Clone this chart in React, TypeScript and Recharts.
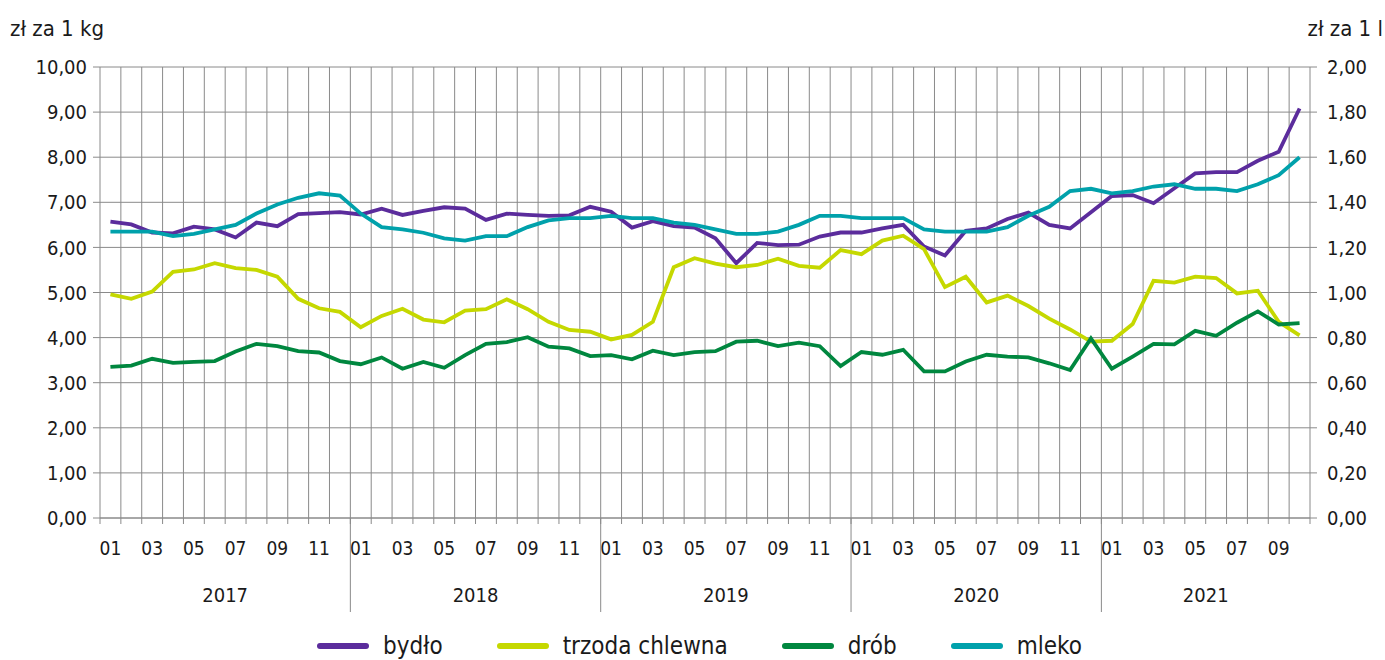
import React from 'react';
import { LineChart, Line, XAxis, YAxis, CartesianGrid, Legend } from 'recharts';

const years = [2017, 2018, 2019, 2020, 2021];
const monthsInYear = [12, 12, 12, 12, 10];
const monthLabels = ['01', '02', '03', '04', '05', '06', '07', '08', '09', '10', '11', '12'];

// zł za 1 kg
const bydlo = [
  6.57, 6.51, 6.33, 6.31, 6.46, 6.4, 6.22, 6.55, 6.47, 6.74, 6.76, 6.78,
  6.73, 6.86, 6.72, 6.81, 6.89, 6.86, 6.61, 6.75, 6.72, 6.7, 6.71, 6.9,
  6.79, 6.44, 6.58, 6.47, 6.44, 6.2, 5.65, 6.1, 6.05, 6.06, 6.24, 6.33,
  6.33, 6.42, 6.5, 6.02, 5.82, 6.37, 6.42, 6.63, 6.77, 6.5, 6.42, 6.78,
  7.14, 7.16, 6.98, 7.31, 7.64, 7.67, 7.67, 7.92, 8.12, 9.08,
];
const trzoda = [
  4.96, 4.86, 5.02, 5.46, 5.51, 5.65, 5.54, 5.5, 5.35, 4.86, 4.65, 4.57,
  4.23, 4.48, 4.64, 4.4, 4.34, 4.6, 4.63, 4.85, 4.63, 4.35, 4.17, 4.13,
  3.96, 4.06, 4.35, 5.56, 5.76, 5.64, 5.56, 5.61, 5.75, 5.59, 5.55, 5.94,
  5.85, 6.15, 6.26, 5.96, 5.12, 5.35, 4.78, 4.93, 4.7, 4.42, 4.18, 3.91,
  3.93, 4.3, 5.26, 5.22, 5.35, 5.32, 4.98, 5.04, 4.35, 4.05,
];
const drob = [
  3.35, 3.38, 3.53, 3.44, 3.46, 3.48, 3.69, 3.86, 3.81, 3.7, 3.67, 3.48,
  3.41, 3.56, 3.31, 3.46, 3.33, 3.61, 3.86, 3.9, 4.01, 3.8, 3.76, 3.59,
  3.61, 3.52, 3.71, 3.61, 3.68, 3.7, 3.91, 3.93, 3.81, 3.89, 3.81, 3.37,
  3.68, 3.62, 3.73, 3.25, 3.25, 3.47, 3.62, 3.58, 3.56, 3.43, 3.28, 3.98,
  3.31, 3.58, 3.86, 3.85, 4.15, 4.04, 4.33, 4.58, 4.29, 4.32,
];
// zł za 1 l
const mleko = [
  1.27, 1.27, 1.27, 1.25, 1.26, 1.28, 1.3, 1.35, 1.39, 1.42, 1.44, 1.43,
  1.35, 1.29, 1.28, 1.265, 1.24, 1.23, 1.25, 1.25, 1.29, 1.32, 1.33, 1.33,
  1.34, 1.33, 1.33, 1.31, 1.3, 1.28, 1.26, 1.26, 1.27, 1.3, 1.34, 1.34,
  1.33, 1.33, 1.33, 1.28, 1.27, 1.27, 1.27, 1.29, 1.34, 1.38, 1.45, 1.46,
  1.44, 1.45, 1.47, 1.48, 1.46, 1.46, 1.45, 1.48, 1.52, 1.6,
];

const leftTicks = [0, 1, 2, 3, 4, 5, 6, 7, 8, 9, 10];
const rightTicks = [0, 0.2, 0.4, 0.6, 0.8, 1, 1.2, 1.4, 1.6, 1.8, 2];

const series = [
  { key: 'bydlo', name: 'bydło', color: '#5b2c9c', axis: 'left' },
  { key: 'trzoda', name: 'trzoda chlewna', color: '#c5d800', axis: 'left' },
  { key: 'drob', name: 'drób', color: '#00873f', axis: 'left' },
  { key: 'mleko', name: 'mleko', color: '#00a1ab', axis: 'right' },
];

type Row = {
  period: string;
  year: number;
  mi: number;
  count: number;
  bydlo: number;
  trzoda: number;
  drob: number;
  mleko: number;
};

const data: Row[] = [];
let n = 0;
years.forEach((yr, yi) => {
  for (let m = 0; m < monthsInYear[yi]; m++) {
    data.push({
      period: `${yr}-${monthLabels[m]}`,
      year: yr,
      mi: m,
      count: monthsInYear[yi],
      bydlo: bydlo[n],
      trzoda: trzoda[n],
      drob: drob[n],
      mleko: mleko[n],
    });
    n++;
  }
});

const W = 1385;
const H = 660;
const LEFT_W = 100;
const RIGHT_W = 75;
const TOP = 67;
const X_H = 142;
const HALF = (W - LEFT_W - RIGHT_W) / data.length / 2;

const FONT = "'DejaVu Sans Condensed', 'Liberation Sans Narrow', 'Roboto', sans-serif";
const GRID = '#8a8a8a';
const TEXT = '#1a1a1a';

const fmt = (v: number) => v.toFixed(2).replace('.', ',');

const MonthTick = (props: any) => {
  const { x, y, index } = props;
  const row = data[index];
  if (!row) return null;
  const left = x - HALF;
  return (
    <g>
      <line x1={left} x2={left} y1={y} y2={y + 6} stroke={GRID} />
      {index === data.length - 1 && (
        <line x1={x + HALF} x2={x + HALF} y1={y} y2={y + 6} stroke={GRID} />
      )}
      {row.mi % 2 === 0 && (
        <text x={x} y={y + 37} textAnchor="middle" fontFamily={FONT} fontSize={19} fill={TEXT}>
          {monthLabels[row.mi]}
        </text>
      )}
      {row.mi === 0 && index > 0 && (
        <line x1={left} x2={left} y1={y} y2={y + 94} stroke={GRID} />
      )}
      {row.mi === Math.floor(row.count / 2) - 1 && (
        <text x={x + HALF} y={y + 84} textAnchor="middle" fontFamily={FONT} fontSize={20} fill={TEXT}>
          {row.year}
        </text>
      )}
    </g>
  );
};

const AxisTitle = (props: any) => {
  const { viewBox, side, value } = props;
  if (!viewBox) return null;
  const left = side === 'left';
  return (
    <text
      x={left ? viewBox.x + 10 : viewBox.x + viewBox.width - 2}
      y={viewBox.y - 31}
      textAnchor={left ? 'start' : 'end'}
      fontFamily={FONT}
      fontSize={22}
      fill={TEXT}
    >
      {value}
    </text>
  );
};

const LegendContent = () => (
  <div
    style={{
      display: 'flex',
      justifyContent: 'center',
      alignItems: 'center',
      fontFamily: FONT,
      fontSize: 24,
      color: TEXT,
      paddingLeft: 14,
    }}
  >
    {series.map((s) => (
      <div key={s.key} style={{ display: 'flex', alignItems: 'center', margin: '0 27px' }}>
        <span
          style={{
            display: 'inline-block',
            width: 52,
            height: 6,
            borderRadius: 3,
            background: s.color,
            marginRight: 14,
          }}
        />
        <span>{s.name}</span>
      </div>
    ))}
  </div>
);

export default function App() {
  return (
    <div style={{ position: 'absolute', left: 0, top: 0, width: W, height: H, background: '#fff' }}>
      <LineChart width={W} height={H} data={data} margin={{ top: TOP, right: 0, bottom: 0, left: 0 }}>
        <CartesianGrid
          yAxisId="left"
          stroke={GRID}
          strokeWidth={1}
          verticalCoordinatesGenerator={({ offset }: any) =>
            Array.from({ length: data.length + 1 }, (_, i) => offset.left + (i * offset.width) / data.length)
          }
        />
        <XAxis
          dataKey="period"
          scale="band"
          interval={0}
          height={X_H}
          tickLine={false}
          tickSize={0}
          tickMargin={0}
          axisLine={{ stroke: GRID }}
          tick={<MonthTick />}
        />
        <YAxis
          yAxisId="left"
          width={LEFT_W}
          domain={[0, 10]}
          ticks={leftTicks}
          tickFormatter={fmt}
          axisLine={false}
          tickLine={{ stroke: GRID }}
          tickSize={7}
          tickMargin={6}
          tick={{ fontFamily: FONT, fontSize: 20, fill: TEXT }}
          label={<AxisTitle side="left" value="zł za 1 kg" />}
        />
        <YAxis
          yAxisId="right"
          orientation="right"
          width={RIGHT_W}
          domain={[0, 2]}
          ticks={rightTicks}
          tickFormatter={fmt}
          axisLine={false}
          tickLine={{ stroke: GRID }}
          tickSize={7}
          tickMargin={10}
          tick={{ fontFamily: FONT, fontSize: 20, fill: TEXT, textAnchor: 'start' }}
          label={<AxisTitle side="right" value="zł za 1 l" />}
        />
        {series.map((s) => (
          <Line
            key={s.key}
            yAxisId={s.axis}
            dataKey={s.key}
            name={s.name}
            stroke={s.color}
            strokeWidth={3.8}
            dot={false}
            activeDot={false}
            isAnimationActive={false}
          />
        ))}
        <Legend
          layout="vertical"
          align="center"
          verticalAlign="middle"
          content={<LegendContent />}
          wrapperStyle={{ position: 'absolute', top: 632, left: 0, width: W, height: 30 }}
        />
      </LineChart>
    </div>
  );
}
